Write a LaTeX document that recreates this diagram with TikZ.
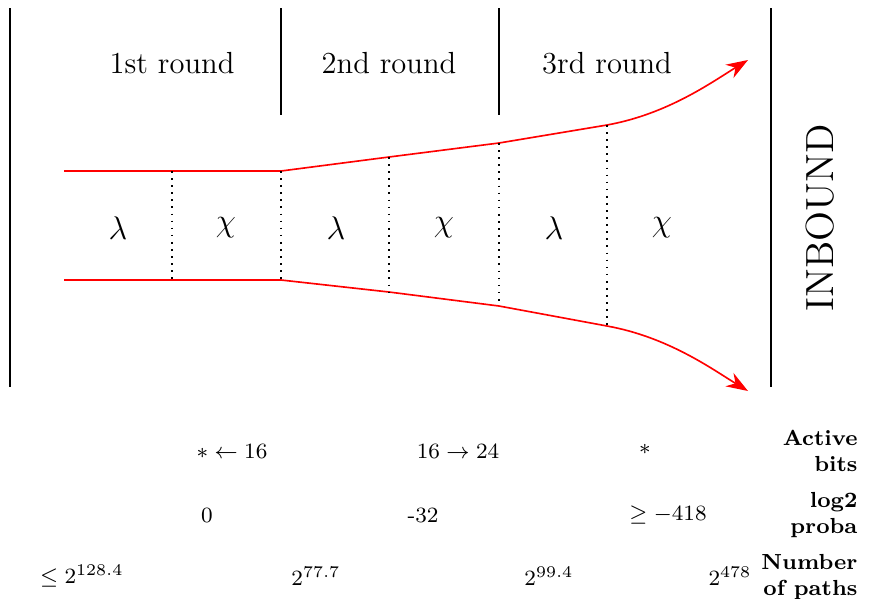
\documentclass[tikz,border=0pt]{standalone}
\usepackage{amsmath, amssymb}
\usepackage{xcolor}
\usepackage{tikz}
\usetikzlibrary{arrows.meta, positioning, calc}

\begin{document}
\begin{tikzpicture}[
    x=0.0129cm, y=-0.0129cm,
    wall/.style={line width=0.8pt},
    flow/.style={red, line width=0.6pt},
    flowarr/.style={red, line width=0.6pt, -{Stealth[length=2.8mm, width=2mm]}},
    cut/.style={dotted, line width=0.6pt},
    rnd/.style={font=\fontsize{11.2pt}{13pt}\selectfont},
    op/.style={font=\large},
    val/.style={font=\footnotesize},
    lbl/.style={font=\footnotesize\bfseries, anchor=east, align=right, inner sep=0pt}
]
\useasboundingbox (0,0) rectangle (878,598);

% Walls
\draw[wall] (10,8) -- (10,387);
\draw[wall] (281,8) -- (281,115);
\draw[wall] (499,8) -- (499,115);
\draw[wall] (771,8) -- (771,387);

% Rounds
\node[rnd] (r1) at (172,63) {1st round};
\node[rnd] (r2) at (389,63) {2nd round};
\node[rnd] (r3) at (607,63) {3rd round};

% Funnel
\coordinate (t0) at (64,171);
\coordinate (t1) at (172,171);
\coordinate (t2) at (281,171);
\coordinate (t3) at (389,157);
\coordinate (t4) at (499,143);
\coordinate (t5) at (607,125);
\coordinate (tend) at (748,60);
\coordinate (b0) at (64,280);
\coordinate (b1) at (172,280);
\coordinate (b2) at (281,280);
\coordinate (b3) at (389,292);
\coordinate (b4) at (499,306);
\coordinate (b5) at (607,326);
\coordinate (bend) at (748,391);

\draw[flowarr] (t0) -- (t2) -- (t3) -- (t4) -- (t5)
    .. controls (668,114) and (712,82) .. (tend);
\draw[flowarr] (b0) -- (b2) -- (b3) -- (b4) -- (b5)
    .. controls (668,337) and (712,369) .. (bend);

\foreach \i in {1,...,5}
    \draw[cut] (t\i) -- (b\i);

% Operations
\node[op] (l1) at (118,228) {$\lambda$};
\node[op] (c1) at (226,228) {$\chi$};
\node[op] (l2) at (336,228) {$\lambda$};
\node[op] (c2) at (444,228) {$\chi$};
\node[op] (l3) at (554,228) {$\lambda$};
\node[op] (c3) at (662,228) {$\chi$};

\node[font=\Large, rotate=90] (inb) at (820,218) {INBOUND};

% Active bits
\node[val] (a1) at (232,451) {$*\leftarrow 16$};
\node[val] (a2) at (458,451) {$16\rightarrow 24$};
\node[val] (a3) at (645,449) {$*$};
\node[lbl] (abits) at (858,451) {Active\\bits};

% log2 proba
\node[val] (p1) at (207,515) {0};
\node[val] (p2) at (423,515) {-32};
\node[val] (p3) at (668,515) {$\geq -418$};
\node[lbl] (proba) at (858,515) {log2\\proba};

% Number of paths
\node[val] (n0) at (82,576) {$\leq 2^{128.4}$};
\node[val] (n1) at (316,576) {$2^{77.7}$};
\node[val] (n2) at (549,576) {$2^{99.4}$};
\node[val] (n3) at (730,576) {$2^{478}$};
\node[lbl] (paths) at (858,577) {Number\\of paths};

\end{tikzpicture}
\end{document}
